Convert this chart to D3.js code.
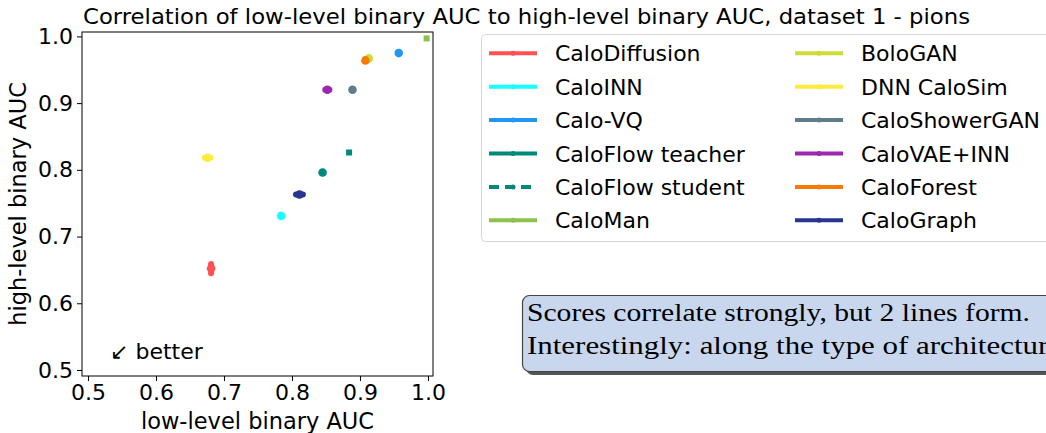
<!DOCTYPE html>
<html>
<head>
<meta charset="utf-8">
<script src="https://d3js.org/d3.v7.min.js"></script>
<style>
  body { margin: 0; background: #fff; }
  text { font-family: "DejaVu Sans", sans-serif; fill: #000; }
  .tick text { font-size: 22px; }
  .legend text { font-size: 22px; }
</style>
</head>
<body>
<svg id="chart" width="1046" height="433"></svg>
<script>
// data
const models  = ["CaloDiffusion", "CaloINN", "Calo-VQ", "CaloFlow teacher", "CaloFlow student", "CaloMan",
                 "BoloGAN", "DNN CaloSim", "CaloShowerGAN", "CaloVAE+INN", "CaloForest", "CaloGraph"];
const colors  = ["#ff5252", "#18ffff", "#2196f3", "#00897b", "#00897b", "#8bc34a",
                 "#cddc39", "#ffeb3b", "#607d8b", "#9c27b0", "#f57c00", "#283593"];
const lowAUC  = [0.681, 0.784, 0.957, 0.845, 0.884, 0.998, 0.913, 0.676, 0.889, 0.852, 0.908, 0.811];
const highAUC = [0.652, 0.731, 0.975, 0.796, 0.826, 0.997, 0.967, 0.818, 0.920, 0.920, 0.964, 0.763];
const lowErr  = [0.002, 0.000, 0.002, 0.003, 0.000, 0.000, 0.003, 0.007, 0.002, 0.006, 0.004, 0.008];
const highErr = [0.010, 0.000, 0.000, 0.002, 0.000, 0.000, 0.002, 0.002, 0.002, 0.002, 0.003, 0.002];
const dashed  = ["CaloFlow student"];
const squares = ["CaloFlow student", "CaloMan"];
const ticks   = [0.5, 0.6, 0.7, 0.8, 0.9, 1.0];

const svg = d3.select("#chart");
const plot = { left: 82, right: 433, top: 32, bottom: 376 };

const x = d3.scaleLinear().domain([0.4912, 1.0074]).range([plot.left, plot.right]);
const y = d3.scaleLinear().domain([0.4910, 1.0066]).range([plot.bottom, plot.top]);

// title
svg.append("text")
  .attr("x", 83).attr("y", 24)
  .attr("textLength", 887).attr("lengthAdjust", "spacingAndGlyphs")
  .style("font-size", "22px")
  .text("Correlation of low-level binary AUC to high-level binary AUC, dataset 1 - pions");

// axes
const xAxis = svg.append("g").attr("transform", `translate(0,${plot.bottom})`)
  .call(d3.axisBottom(x).tickValues(ticks).tickFormat(d3.format(".1f")).tickSize(5).tickPadding(3));
const yAxis = svg.append("g").attr("transform", `translate(${plot.left},0)`)
  .call(d3.axisLeft(y).tickValues(ticks).tickFormat(d3.format(".1f")).tickSize(5).tickPadding(4));
[xAxis, yAxis].forEach(a => {
  a.select(".domain").remove();
  a.selectAll(".tick line").attr("stroke", "#000").attr("stroke-width", 1);
});

svg.append("rect")
  .attr("x", plot.left).attr("y", plot.top)
  .attr("width", plot.right - plot.left).attr("height", plot.bottom - plot.top)
  .attr("fill", "none").attr("stroke", "#000").attr("stroke-width", 1);

svg.append("text")
  .attr("x", (plot.left + plot.right) / 2).attr("y", 429)
  .attr("text-anchor", "middle").style("font-size", "22.5px")
  .text("low-level binary AUC");
svg.append("text")
  .attr("transform", `translate(26,${(plot.top + plot.bottom) / 2}) rotate(-90)`)
  .attr("text-anchor", "middle").style("font-size", "22.5px")
  .text("high-level binary AUC");

// points with error bars
const pts = models.map((m, i) => ({ m, c: colors[i], x: lowAUC[i], y: highAUC[i], ex: lowErr[i], ey: highErr[i] }));
const g = svg.append("g");
pts.forEach(d => {
  const cx = x(d.x), cy = y(d.y);
  if (d.ex > 0) g.append("line").attr("x1", x(d.x - d.ex) + 2).attr("x2", x(d.x + d.ex) - 2)
    .attr("y1", cy).attr("y2", cy).attr("stroke", d.c).attr("stroke-width", 6).attr("stroke-linecap", "round");
  if (d.ey > 0) g.append("line").attr("y1", y(d.y - d.ey) - 2).attr("y2", y(d.y + d.ey) + 2)
    .attr("x1", cx).attr("x2", cx).attr("stroke", d.c).attr("stroke-width", 6).attr("stroke-linecap", "round");
  if (squares.includes(d.m)) {
    g.append("rect").attr("x", cx - 3).attr("y", cy - 3).attr("width", 6).attr("height", 6).attr("fill", d.c);
  } else {
    g.append("circle").attr("cx", cx).attr("cy", cy).attr("r", 4.3).attr("fill", d.c);
  }
});

svg.append("text")
  .attr("x", 110).attr("y", 359).style("font-size", "22px")
  .text("\u2199  better");

// legend
const leg = svg.append("g").attr("class", "legend");
leg.append("rect")
  .attr("x", 481.5).attr("y", 34.5).attr("width", 600).attr("height", 207)
  .attr("rx", 4).attr("fill", "#fff").attr("stroke", "#d6d6d6");
const items = leg.selectAll(".item").data(pts).join("g")
  .attr("transform", (d, i) => `translate(${i < 6 ? 489 : 795},${53.3 + (i % 6) * 33.4})`);
items.append("line")
  .attr("x1", 0).attr("x2", 48).attr("y1", 0).attr("y2", 0)
  .attr("stroke", d => d.c).attr("stroke-width", 4)
  .attr("stroke-dasharray", d => dashed.includes(d.m) ? "10,6" : null);
items.append("circle").attr("cx", 24).attr("cy", 0).attr("r", 2.5).attr("fill", d => d.c);
items.append("text").attr("x", 66).attr("y", 8).text(d => d.m);

// annotation box
const note = svg.append("g");
note.append("rect")
  .attr("x", 526).attr("y", 299).attr("width", 600).attr("height", 76)
  .attr("rx", 7).attr("fill", "#555");
note.append("rect")
  .attr("x", 522.5).attr("y", 295.5).attr("width", 600).attr("height", 76)
  .attr("rx", 7).attr("fill", "#c9d7ee").attr("stroke", "#444").attr("stroke-width", 1.2);
const lines = ["Scores correlate strongly, but 2 lines form.", "Interestingly:  along the type of architecture"];
const lineWidths = [503, 535];
note.selectAll("text.n").data(lines).join("text")
  .attr("x", 527).attr("y", (d, i) => 321 + i * 33)
  .attr("textLength", (d, i) => lineWidths[i]).attr("lengthAdjust", "spacingAndGlyphs")
  .style("font-family", "'Liberation Serif', 'DejaVu Serif', serif")
  .style("font-size", "25px")
  .text(d => d);
</script>
</body>
</html>
